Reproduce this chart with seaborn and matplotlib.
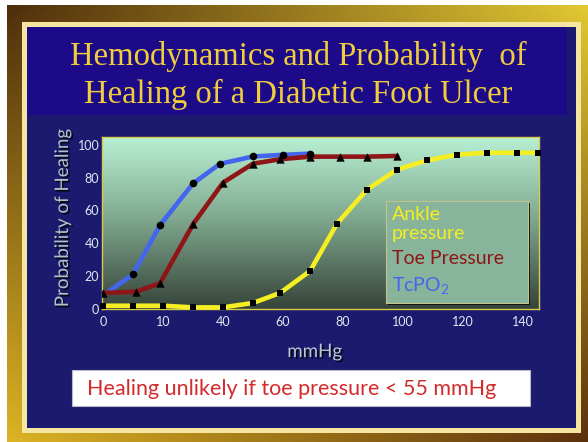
import numpy as np
import pandas as pd
import matplotlib
matplotlib.use("Agg")
import matplotlib.pyplot as plt
import matplotlib.patheffects as pe
from matplotlib.patches import Rectangle
from matplotlib.colors import to_rgb
import seaborn as sns

# ---- data (probability of healing, % vs. pressure, mmHg) ----
tcpo2_mmhg = [0, 10, 19, 30, 39, 50, 60, 69]
tcpo2_prob = [8, 21, 51, 76.5, 88.5, 93, 94, 94.7]

toe_mmhg = [0, 11, 19, 30, 40, 50, 59, 69, 79, 88, 98]
toe_prob = [9.6, 10.4, 15.5, 51.6, 77, 88.6, 91.3, 92.9, 92.9, 92.9, 93.3]

ankle_mmhg = [0, 10, 20, 30, 40, 50, 59, 69, 78, 88, 98, 108, 118, 128, 138, 145]
ankle_prob = [1.8, 1.8, 1.8, 0.8, 0.8, 3.5, 9.6, 23, 52, 72.8, 85, 90.6, 94.1, 95.3, 95.3, 95.3]

x_ticks = [0, 20, 40, 60, 80, 100, 120, 140]
x_tick_labels = ["0", "10", "40", "60", "80", "100", "120", "140"]
y_ticks = [0, 20, 40, 60, 80, 100]

legend_labels = ["Ankle\npressure", "Toe Pressure", "TcPO$_\\mathrm{2}$"]
title_lines = ["Hemodynamics and Probability  of", "Healing of a Diabetic Foot Ulcer"]
note_text = "Healing unlikely if toe pressure < 55 mmHg"

# ---- style ----
sns.set_style("white")
plt.rcParams["font.family"] = ["Lato", "DejaVu Sans"]
plt.rcParams["mathtext.fontset"] = "custom"
plt.rcParams["mathtext.rm"] = "Lato"
plt.rcParams["mathtext.it"] = "Lato"

BLUE = "#4466ee"
RED = "#8e1616"
YELLOW = "#f4ee22"
NAVY = "#1b1a6e"
TITLE_BAND = "#1c0a88"
TITLE_YELLOW = "#f0cd3c"

W, H = 588, 442
fig = plt.figure(figsize=(W / 100, H / 100), dpi=100)
fig.patch.set_facecolor("white")

# ---- slide background drawn in pixel coordinates ----
bg = fig.add_axes([0, 0, 1, 1], zorder=-1)
bg.set_xlim(0, W)
bg.set_ylim(H, 0)
bg.axis("off")

# gold frame: bilinear blend between four corner colours
tl, tr = np.array(to_rgb("#4e2e0c")), np.array(to_rgb("#e2c832"))
bl, br = np.array(to_rgb("#dcb424")), np.array(to_rgb("#5c300c"))
u = np.linspace(0, 1, 200)[None, :, None]
v = np.linspace(0, 1, 160)[:, None, None]
gold = (1 - u) * (1 - v) * tl + u * (1 - v) * tr + (1 - u) * v * bl + u * v * br
bg.imshow(gold, extent=(7, W, H, 5), aspect="auto", interpolation="bilinear", zorder=0)

bg.add_patch(Rectangle((22, 22), 559, 411, facecolor="#f4e6a0", edgecolor="none", zorder=1))
bg.add_patch(Rectangle((27, 27), 549, 401, facecolor=NAVY, edgecolor="none", zorder=2))
bg.add_patch(Rectangle((27, 27), 540, 88, facecolor=TITLE_BAND, edgecolor="none", zorder=3))

# plot-area gradient (mint at top fading to dark olive at bottom)
stops = [(0.0, "#b8f0d4"), (0.45, "#82ac92"), (1.0, "#36443a")]
t = np.linspace(0, 1, 200)
grad = np.zeros((200, 1, 3))
for ch in range(3):
    grad[:, 0, ch] = np.interp(t, [s for s, _ in stops], [to_rgb(c)[ch] for _, c in stops])
bg.imshow(grad, extent=(102, 539, 309, 137), aspect="auto", interpolation="bilinear", zorder=4)

# title
for line, base in zip(title_lines, [65, 103]):
    bg.text(298, base, line, ha="center", va="baseline", color=TITLE_YELLOW,
            family="Liberation Serif", fontsize=23.5, zorder=5)

# note box
bg.add_patch(Rectangle((72, 370), 458, 36, facecolor="white", edgecolor="#b8b8c8", lw=0.8, zorder=5))
bg.text(292, 389, note_text, ha="center", va="center", color="#d42a2c", fontsize=15.5, zorder=6)

# legend box with drop shadow
bg.add_patch(Rectangle((388, 203), 142, 102, facecolor="black", edgecolor="none", alpha=0.85, zorder=5))
bg.add_patch(Rectangle((386, 201), 142, 102, facecolor="#88b49c", edgecolor="#c4c48a", lw=0.8, zorder=6))
leg_colors = [YELLOW, RED, BLUE]
leg_y = [224, 259, 285]
for lab, col, yy in zip(legend_labels, leg_colors, leg_y):
    bg.text(392, yy, lab, ha="left", va="center", color=col, fontsize=14,
            linespacing=1.2, zorder=7)

# ---- chart ----
ax = fig.add_axes([102 / W, 1 - 309 / H, 437 / W, 172 / H])
ax.patch.set_alpha(0)

df_tc = pd.DataFrame({"mmHg": tcpo2_mmhg, "prob": tcpo2_prob})
df_toe = pd.DataFrame({"mmHg": toe_mmhg, "prob": toe_prob})
df_ank = pd.DataFrame({"mmHg": ankle_mmhg, "prob": ankle_prob})

line_kw = dict(lw=3.3, solid_joinstyle="round", solid_capstyle="round", sort=False)
sns.lineplot(data=df_tc, x="mmHg", y="prob", color=BLUE, ax=ax, zorder=3, **line_kw)
sns.lineplot(data=df_toe, x="mmHg", y="prob", color=RED, ax=ax, zorder=4, **line_kw)
sns.lineplot(data=df_ank, x="mmHg", y="prob", color=YELLOW, ax=ax, zorder=5,
             clip_on=False, **line_kw)

sns.scatterplot(data=df_tc.iloc[1:], x="mmHg", y="prob", marker="o", s=30,
                color="black", linewidth=0, ax=ax, zorder=7)
sns.scatterplot(data=df_toe, x="mmHg", y="prob", marker="^", s=36,
                color="black", linewidth=0, ax=ax, zorder=8)
sns.scatterplot(data=df_ank, x="mmHg", y="prob", marker="s", s=14,
                color="black", linewidth=0, ax=ax, zorder=8, clip_on=False)

ax.set_xlim(-0.33, 145.3)
ax.set_ylim(-0.2, 104.9)
ax.set_xticks(x_ticks)
ax.set_xticklabels(x_tick_labels)
ax.set_yticks(y_ticks)
ax.set_yticklabels([str(v) for v in y_ticks])
ax.tick_params(axis="both", length=0, colors="#e2e8f2", labelsize=9)
ax.tick_params(axis="x", pad=5)
ax.tick_params(axis="y", pad=2)
for sp in ax.spines.values():
    sp.set_visible(True)
    sp.set_color("#d8cc48")
    sp.set_linewidth(1.0)

shadow = [pe.withSimplePatchShadow(offset=(1.3, -1.3), shadow_rgbFace="black", alpha=0.75)]
ax.set_xlabel("mmHg", color="#b8c8cc", fontsize=13.5, path_effects=shadow)
ax.set_ylabel("Probability of Healing", color="#aec4c4", fontsize=13.5, path_effects=shadow)
ax.xaxis.set_label_coords(0.487, -0.198)
ax.yaxis.set_label_coords(-0.071, 0.53)

fig.savefig("out.png", dpi=100)
